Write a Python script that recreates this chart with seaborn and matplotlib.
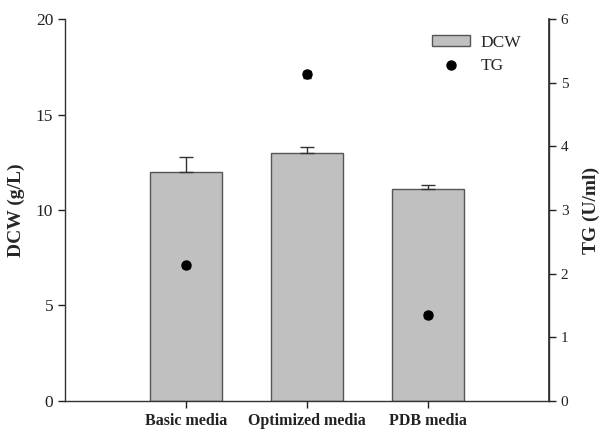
import numpy as np
import pandas as pd
import matplotlib
matplotlib.use("Agg")
import matplotlib.pyplot as plt
from matplotlib.patches import Patch
from matplotlib.lines import Line2D
import seaborn as sns

# data
media = ["Basic media", "Optimized media", "PDB media"]
dcw = [12.0, 13.0, 11.1]
dcw_err = [0.8, 0.3, 0.2]
tg = [2.13, 5.13, 1.35]
tg_err = [0.04, 0.05, 0.05]

sns.set_theme(style="white")
plt.rcParams["font.family"] = ["Liberation Serif", "DejaVu Serif"]

df = pd.DataFrame({"media": media, "DCW": dcw})

fig = plt.figure(figsize=(6.04, 4.37), dpi=100)
ax = fig.add_axes([0.1076, 0.0824, 0.8014, 0.8741])

sns.barplot(data=df, x="media", y="DCW", color="#c0c0c0", width=0.6,
            edgecolor="#555555", linewidth=1.0, saturation=1, ax=ax)
ax.errorbar(range(3), dcw, yerr=[[0] * 3, dcw_err], fmt="none",
            ecolor="#333333", elinewidth=1.0, capsize=5, capthick=1.0)

ax.set_xlim(-1, 3)
ax.set_ylim(0, 20)
ax.set_yticks([0, 5, 10, 15, 20])
ax.set_xlabel("")
ax.set_ylabel("DCW (g/L)", fontsize=14, fontweight="bold", labelpad=8)
ax.tick_params(axis="y", direction="out", length=5, width=1, labelsize=12.5,
               left=True, colors="#222222")
ax.tick_params(axis="x", direction="out", length=5, width=1, labelsize=11.5,
               bottom=True, colors="#222222")
for lab in ax.get_xticklabels():
    lab.set_fontweight("bold")
ax.spines["top"].set_visible(False)
for s in ["left", "bottom", "right"]:
    ax.spines[s].set_color("#333333")
    ax.spines[s].set_linewidth(1.0)

ax2 = ax.twinx()
ax2.errorbar(range(3), tg, yerr=tg_err, fmt="o", color="black", ms=6.5,
             ecolor="black", elinewidth=1.0, capsize=3)
ax2.set_ylim(0, 6)
ax2.set_yticks(range(7))
ax2.set_ylabel("TG (U/ml)", fontsize=14, fontweight="bold", labelpad=10)
ax2.tick_params(axis="y", direction="out", length=5, width=1, labelsize=11,
                right=True, colors="#222222")
ax2.spines["top"].set_visible(False)
ax2.spines["right"].set_color("#333333")
ax2.spines["left"].set_visible(False)
ax2.spines["bottom"].set_visible(False)

handles = [
    Patch(facecolor="#c0c0c0", edgecolor="#555555", linewidth=1.0),
    Line2D([], [], marker="o", color="black", linestyle="none", markersize=6.5),
]
ax2.legend(handles, ["DCW", "TG"], loc="upper right", frameon=False, fontsize=12.5,
           bbox_to_anchor=(0.975, 1.0), handlelength=2.2, handleheight=0.65,
           handletextpad=0.6, labelspacing=0.45)

fig.savefig("out.png", dpi=100)
